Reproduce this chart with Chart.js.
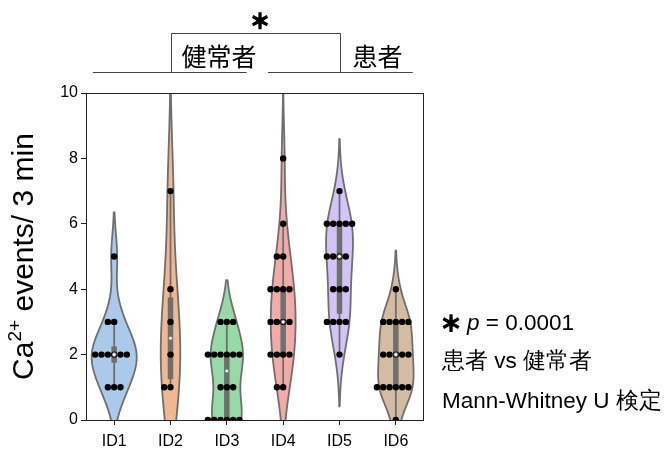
<!DOCTYPE html>
<html>
<head>
<meta charset="utf-8">
<script src="https://cdn.jsdelivr.net/npm/chart.js@4.4.1/dist/chart.umd.min.js"></script>
<style>
html, body { margin: 0; padding: 0; background: #fff; }
</style>
</head>
<body>
<canvas id="chart" width="664" height="455"></canvas>
<script>
// data
const categories = ["ID1", "ID2", "ID3", "ID4", "ID5", "ID6"]
const id1 = [1, 1, 1, 2, 2, 2, 2, 2, 2, 3, 3, 5]
const id2 = [1, 1, 2, 3, 4, 7]
const id3 = [0, 0, 0, 0, 0, 0, 1, 1, 1, 2, 2, 2, 2, 2, 2, 3, 3, 3]
const id4 = [1, 1, 2, 2, 2, 2, 3, 3, 3, 3, 4, 4, 4, 4, 5, 5, 6, 8]
const id5 = [2, 3, 3, 3, 3, 4, 4, 4, 5, 5, 5, 5, 6, 6, 6, 6, 6, 7]
const id6 = [0, 1, 1, 1, 1, 1, 1, 2, 2, 2, 2, 2, 3, 3, 3, 3, 3, 4]
const yTicks = [0, 2, 4, 6, 8, 10]
const groupNames = ["健常者", "患者"]
const pValue = "0.0001"

const series = [id1, id2, id3, id4, id5, id6]
const colors = ["#abc9ea", "#efb792", "#98daa7", "#f3aba8", "#d3c4f7", "#d6bba3"]
const gray = "#6f6f6f"

// gaussian kde, scott bandwidth, cut = 2 (seaborn defaults)
function kde(data) {
  let n = data.length
  let mean = data.reduce((a, b) => a + b, 0) / n
  let sd = Math.sqrt(data.reduce((a, b) => a + (b - mean) ** 2, 0) / (n - 1))
  let bw = sd * Math.pow(n, -0.2)
  let lo = Math.min(...data) - 2 * bw
  let hi = Math.max(...data) + 2 * bw
  let ys = [], ds = []
  for (let i = 0; i < 100; i++) {
    let y = lo + (hi - lo) * i / 99
    let d = 0
    data.forEach(v => d += Math.exp(-0.5 * ((y - v) / bw) ** 2))
    ys.push(y)
    ds.push(d / (n * bw * Math.sqrt(2 * Math.PI)))
  }
  return { ys, ds }
}

function pct(data, p) {
  let s = [...data].sort((a, b) => a - b)
  let idx = (s.length - 1) * p
  let lo = Math.floor(idx), hi = Math.ceil(idx)
  return s[lo] + (s[hi] - s[lo]) * (idx - lo)
}

let kdes = series.map(kde)
let maxD = Math.max(...kdes.map(k => Math.max(...k.ds)))

let datasets = []
let dots = []
let medians = []

series.forEach((data, i) => {
  // violin outline
  let k = kdes[i]
  let poly = []
  k.ys.forEach((y, j) => poly.push({ x: i + 0.4 * k.ds[j] / maxD, y: y }))
  for (let j = k.ys.length - 1; j >= 0; j--) poly.push({ x: i - 0.4 * k.ds[j] / maxD, y: k.ys[j] })
  poly.push(poly[0])

  datasets.push({
    data: poly,
    borderColor: gray,
    borderWidth: 1.8,
    backgroundColor: colors[i],
    fill: "shape",
    pointRadius: 0,
    tension: 0.01, // avoid the fast path (x is not sorted here)
    capBezierPoints: false,
    order: 6
  })

  // inner box
  let q1 = pct(data, 0.25), q2 = pct(data, 0.5), q3 = pct(data, 0.75)
  let lim = 1.5 * (q3 - q1)
  let h1 = Math.min(...data.filter(v => v >= q1 - lim))
  let h2 = Math.max(...data.filter(v => v <= q3 + lim))

  datasets.push({
    data: [{ x: i, y: h1 }, { x: i, y: h2 }],
    borderColor: gray,
    borderWidth: 1.8,
    pointRadius: 0,
    fill: false,
    order: 5
  })
  datasets.push({
    data: [{ x: i, y: q1 }, { x: i, y: q3 }],
    borderColor: gray,
    borderWidth: 5.5,
    borderCapStyle: "butt",
    pointRadius: 0,
    fill: false,
    order: 4
  })
  medians.push({ x: i, y: q2 })

  // swarm: 0, -1, +1, -2, +2 ...
  let rows = {}
  data.forEach(v => {
    rows[v] = (rows[v] || 0) + 1
    let c = rows[v] - 1
    let k2 = c === 0 ? 0 : (c % 2 === 1 ? -(c + 1) / 2 : c / 2)
    dots.push({ x: i + k2 * 0.112, y: v })
  })
})

datasets.push({
  data: dots,
  showLine: false,
  pointRadius: 3.2,
  pointBackgroundColor: "#000",
  pointBorderWidth: 0,
  order: 2
})
datasets.push({
  data: medians,
  showLine: false,
  pointRadius: 2,
  pointBackgroundColor: "#fff",
  pointBorderColor: gray,
  pointBorderWidth: 1,
  order: 1
})

// heavy asterisk: fill + stroke so it looks bold
function star(ctx, txt, x, y, size) {
  ctx.font = "bold " + size + "px 'Noto Sans CJK JP'"
  ctx.lineWidth = 1.6
  ctx.strokeStyle = "#000"
  ctx.fillText(txt, x, y)
  ctx.strokeText(txt, x, y)
}

const extras = {
  id: "extras",
  afterDraw(chart) {
    const { ctx, chartArea: a, scales: { x } } = chart
    ctx.save()

    // frame
    ctx.strokeStyle = "#222"
    ctx.lineWidth = 1
    ctx.strokeRect(Math.round(a.left) + 0.5, Math.round(a.top) + 0.5, Math.round(a.right - a.left) - 1, Math.round(a.bottom - a.top))

    // y title with superscript
    ctx.fillStyle = "#000"
    ctx.translate(33, (a.top + a.bottom) / 2)
    ctx.rotate(-Math.PI / 2)
    let big = "30px 'Liberation Sans', Arial, sans-serif"
    let small = "19px 'Liberation Sans', Arial, sans-serif"
    ctx.font = big
    let w1 = ctx.measureText("Ca").width
    let w3 = ctx.measureText(" events/ 3 min").width
    ctx.font = small
    let w2 = ctx.measureText("2+").width
    let sx = -(w1 + w2 + w3) / 2
    ctx.textBaseline = "alphabetic"
    ctx.textAlign = "left"
    ctx.font = big
    ctx.fillText("Ca", sx, 0)
    ctx.font = small
    ctx.fillText("2+", sx + w1, -12)
    ctx.font = big
    ctx.fillText(" events/ 3 min", sx + w1 + w2, 0)
    ctx.setTransform(1, 0, 0, 1, 0, 0)

    // group lines and bracket
    let lineY = a.top - 20.5
    ctx.strokeStyle = "#444"
    ctx.lineWidth = 1
    ctx.beginPath()
    ctx.moveTo(x.getPixelForValue(-0.38), lineY)
    ctx.lineTo(x.getPixelForValue(2.35), lineY)
    ctx.moveTo(x.getPixelForValue(2.73), lineY)
    ctx.lineTo(x.getPixelForValue(5.3), lineY)
    let b1 = Math.round(x.getPixelForValue(1)) + 0.5
    let b2 = Math.round(x.getPixelForValue(4)) + 0.5
    ctx.moveTo(b1, lineY)
    ctx.lineTo(b1, a.top - 59.5)
    ctx.lineTo(b2, a.top - 59.5)
    ctx.lineTo(b2, lineY)
    ctx.stroke()

    ctx.fillStyle = "#000"
    ctx.textBaseline = "middle"
    ctx.textAlign = "left"
    ctx.font = "25px 'Noto Sans CJK JP'"
    ctx.fillText(groupNames[0], b1 + 10, a.top - 37)
    ctx.fillText(groupNames[1], b2 + 12, a.top - 37)

    ctx.textAlign = "center"
    star(ctx, "＊", (b1 + b2) / 2 + 4, a.top - 72, 20)

    // right side note
    let tx = a.right + 18
    star(ctx, "＊", tx + 9, 323, 21)
    ctx.textAlign = "left"
    ctx.font = "italic 22.5px 'Liberation Sans', Arial, sans-serif"
    ctx.fillText("p", tx + 25, 324)
    let pw = ctx.measureText("p").width
    ctx.font = "22.5px 'Liberation Sans', Arial, sans-serif"
    ctx.fillText(" = " + pValue, tx + 25 + pw, 324)
    ctx.fillText(groupNames[1] + " vs " + groupNames[0], tx, 362)
    ctx.fillText("Mann-Whitney U 検定", tx, 402)

    ctx.restore()
  }
}

new Chart(document.getElementById("chart"), {
  type: "line",
  data: { datasets: datasets },
  options: {
    responsive: false,
    animation: false,
    layout: { padding: { top: 93, right: 240, left: 0, bottom: 0 } },
    plugins: { legend: { display: false }, tooltip: { enabled: false } },
    scales: {
      x: {
        type: "linear",
        min: -0.5,
        max: 5.5,
        afterBuildTicks: axis => { axis.ticks = categories.map((c, i) => ({ value: i })) },
        afterFit: axis => { axis.height = 35 },
        ticks: {
          callback: v => categories[v],
          color: "#000",
          font: { family: "'Liberation Sans', Arial, sans-serif", size: 16 },
          padding: 7,
          maxRotation: 0
        },
        grid: { drawOnChartArea: false, tickLength: 5, color: "#222" },
        border: { display: false }
      },
      y: {
        min: 0,
        max: 10,
        afterBuildTicks: axis => { axis.ticks = yTicks.map(v => ({ value: v })) },
        afterFit: axis => { axis.width = 86 },
        ticks: {
          color: "#000",
          font: { family: "'Liberation Sans', Arial, sans-serif", size: 16 },
          padding: 3
        },
        grid: { drawOnChartArea: false, tickLength: 5, color: "#222" },
        border: { display: false }
      }
    }
  },
  plugins: [extras]
})
</script>
</body>
</html>
